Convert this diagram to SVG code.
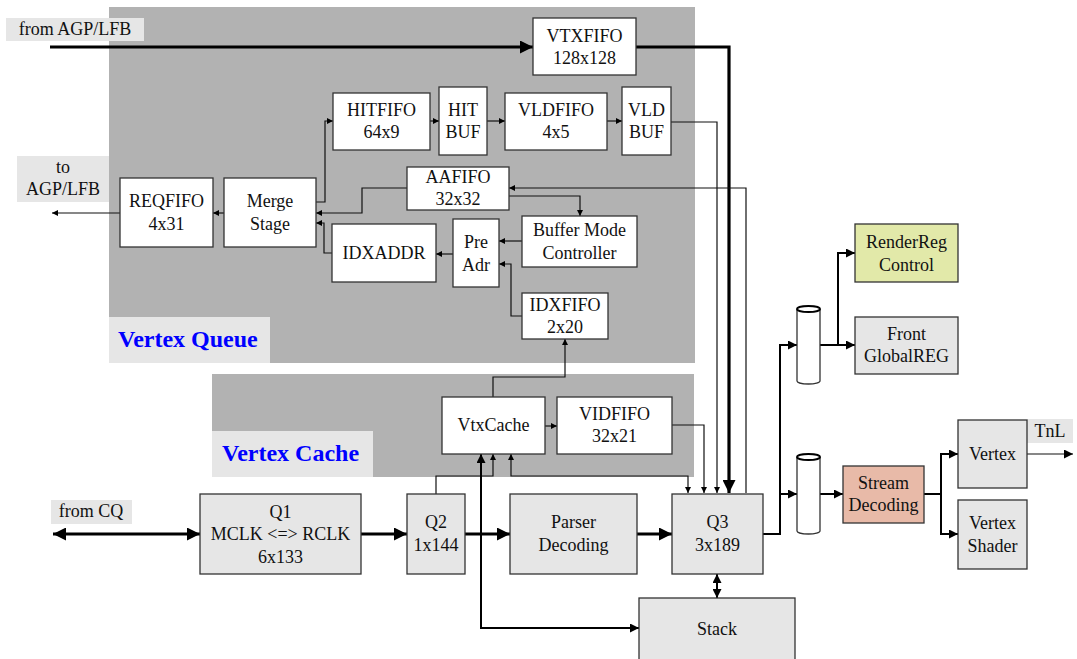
<svg xmlns="http://www.w3.org/2000/svg" width="1077" height="659" viewBox="0 0 1077 659">
<style>
text{font-family:'Liberation Serif','Times New Roman',serif;font-size:18px;fill:#111;text-anchor:middle}
text.lbl{font-size:24px;font-weight:bold;fill:#0000ff;text-anchor:start}
.box{stroke:#333;stroke-width:1.3}
.w{fill:#fff}
.g{fill:#e6e6e6}
.region{fill:#b2b2b2}
.tag{fill:#e6e6e6}
.thin{fill:none;stroke:#111;stroke-width:1.2}
.med{fill:none;stroke:#000;stroke-width:2}
.thick{fill:none;stroke:#000;stroke-width:3.2}
</style>
<defs>
<marker id="as" viewBox="0 0 10 10" refX="10" refY="5" markerWidth="7" markerHeight="6" markerUnits="userSpaceOnUse" orient="auto-start-reverse"><path d="M0,0L10,5L0,10z" fill="#000"/></marker>
<marker id="am" viewBox="0 0 10 10" refX="10" refY="5" markerWidth="10" markerHeight="9" markerUnits="userSpaceOnUse" orient="auto-start-reverse"><path d="M0,0L10,5L0,10z" fill="#000"/></marker>
<marker id="al" viewBox="0 0 10 10" refX="10" refY="5" markerWidth="16" markerHeight="13" markerUnits="userSpaceOnUse" orient="auto-start-reverse"><path d="M0,0L10,5L0,10z" fill="#000"/></marker>
</defs>

<g id="regions">
<rect class="region" x="109" y="7" width="586" height="356"/>
<rect class="tag" x="109" y="317" width="161" height="46"/>
<text class="lbl" x="118" y="347">Vertex Queue</text>
<rect class="region" x="212" y="374" width="482" height="103"/>
<rect class="tag" x="212" y="431" width="161" height="46"/>
<text class="lbl" x="222" y="461">Vertex Cache</text>
<rect class="tag" x="6" y="18" width="138" height="23"/>
<text x="75" y="35">from AGP/LFB</text>
<rect class="tag" x="17" y="156" width="92" height="46"/>
<text x="63" y="173">to</text>
<text x="63" y="195">AGP/LFB</text>
<rect class="tag" x="51" y="500" width="81" height="24"/>
<text x="91" y="517">from CQ</text>
<rect class="tag" x="1027" y="419" width="46" height="24"/>
<text x="1050" y="437">TnL</text>
</g>

<g id="connectors">
<path class="thick" d="M50,47H533" marker-end="url(#al)"/>
<path class="thick" d="M636,47H729V493" marker-end="url(#al)"/>
<path class="thin" d="M671,122H717V493" marker-end="url(#as)"/>
<path class="thin" d="M746,493V188H509" marker-end="url(#as)"/>
<path class="thin" d="M509,196H580V216" marker-end="url(#as)"/>
<path class="thin" d="M407,188H362V213H316" marker-end="url(#as)"/>
<path class="thin" d="M224,213H213" marker-end="url(#as)"/>
<path class="thin" d="M120,213H52" marker-end="url(#as)"/>
<path class="thin" d="M316,202H325V121H333" marker-end="url(#as)"/>
<path class="thin" d="M430,121H439" marker-end="url(#as)"/>
<path class="thin" d="M487,121H505" marker-end="url(#as)"/>
<path class="thin" d="M607,121H622" marker-end="url(#as)"/>
<path class="thin" d="M522,241H499" marker-end="url(#as)"/>
<path class="thin" d="M522,316H511V264H499" marker-end="url(#as)"/>
<path class="thin" d="M453,254H436" marker-end="url(#as)"/>
<path class="thin" d="M332,253H324V223H316" marker-end="url(#as)"/>
<path class="thin" d="M493,397V377H565V339" marker-end="url(#as)"/>
<path class="thin" d="M545,426H557" marker-end="url(#as)"/>
<path class="thin" d="M672,425H704V493" marker-end="url(#as)"/>
<path class="thin" d="M511,454V476H688V493" marker-start="url(#as)" marker-end="url(#as)"/>
<path class="thin" d="M436,494V476H493V454" marker-end="url(#as)"/>
<path class="med" d="M481,454V628H639" marker-start="url(#am)" marker-end="url(#am)"/>
<path class="thick" d="M53,534H200" marker-start="url(#al)" marker-end="url(#al)"/>
<path class="thick" d="M361,534H407" marker-end="url(#al)"/>
<path class="thick" d="M465,534H510" marker-end="url(#al)"/>
<path class="thick" d="M637,534H672" marker-end="url(#al)"/>
<path class="med" d="M717,574V598" marker-start="url(#am)" marker-end="url(#am)"/>
<path class="med" d="M763,534H780V345H797" marker-end="url(#am)"/>
<path class="med" d="M780,494H797" marker-end="url(#am)"/>
<path class="med" d="M820,345H855" marker-end="url(#am)"/>
<path class="med" d="M838,345V253H855" marker-end="url(#am)"/>
<path class="med" d="M820,494H843" marker-end="url(#am)"/>
<path class="med" d="M924,494H941V454H958" marker-end="url(#am)"/>
<path class="med" d="M941,494V534H958" marker-end="url(#am)"/>
<path class="thin" d="M1027,454H1073" marker-end="url(#am)"/>
</g>

<g id="vtxfifo"><rect class="box w" x="533" y="18" width="103" height="57"/><text x="584.5" y="42">VTXFIFO</text><text x="584.5" y="64">128x128</text></g>
<g id="hitfifo"><rect class="box w" x="333" y="93" width="97" height="57"/><text x="381.5" y="116">HITFIFO</text><text x="381.5" y="138">64x9</text></g>
<g id="hitbuf"><rect class="box w" x="439" y="87" width="48" height="68"/><text x="463" y="116">HIT</text><text x="463" y="138">BUF</text></g>
<g id="vldfifo"><rect class="box w" x="505" y="93" width="102" height="57"/><text x="556" y="116">VLDFIFO</text><text x="556" y="138">4x5</text></g>
<g id="vldbuf"><rect class="box w" x="622" y="87" width="49" height="68"/><text x="646.5" y="116">VLD</text><text x="646.5" y="138">BUF</text></g>
<g id="aafifo"><rect class="box w" x="407" y="167" width="102" height="43"/><text x="458" y="183">AAFIFO</text><text x="458" y="205">32x32</text></g>
<g id="reqfifo"><rect class="box w" x="120" y="178" width="93" height="69"/><text x="166.5" y="207">REQFIFO</text><text x="166.5" y="230">4x31</text></g>
<g id="merge"><rect class="box w" x="224" y="178" width="92" height="69"/><text x="270" y="207">Merge</text><text x="270" y="230">Stage</text></g>
<g id="bmc"><rect class="box w" x="522" y="216" width="115" height="51"/><text x="579.5" y="236">Buffer Mode</text><text x="579.5" y="259">Controller</text></g>
<g id="preadr"><rect class="box w" x="453" y="219" width="46" height="68"/><text x="476" y="248">Pre</text><text x="476" y="271">Adr</text></g>
<g id="idxaddr"><rect class="box w" x="332" y="224" width="104" height="58"/><text x="384" y="259">IDXADDR</text></g>
<g id="idxfifo"><rect class="box w" x="522" y="293" width="86" height="46"/><text x="565" y="311">IDXFIFO</text><text x="565" y="333">2x20</text></g>
<g id="vtxcache"><rect class="box w" x="442" y="397" width="103" height="57"/><text x="493.5" y="431">VtxCache</text></g>
<g id="vidfifo"><rect class="box w" x="557" y="397" width="115" height="57"/><text x="614.5" y="420">VIDFIFO</text><text x="614.5" y="442">32x21</text></g>
<g id="q1"><rect class="box g" x="200" y="494" width="161" height="80"/><text x="280.5" y="518">Q1</text><text x="280.5" y="540">MCLK &lt;=&gt; RCLK</text><text x="280.5" y="563">6x133</text></g>
<g id="q2"><rect class="box g" x="407" y="494" width="58" height="80"/><text x="436" y="528">Q2</text><text x="436" y="551">1x144</text></g>
<g id="parser"><rect class="box g" x="510" y="494" width="127" height="80"/><text x="573.5" y="528">Parser</text><text x="573.5" y="551">Decoding</text></g>
<g id="q3"><rect class="box g" x="672" y="494" width="91" height="80"/><text x="717.5" y="528">Q3</text><text x="717.5" y="551">3x189</text></g>
<g id="stack"><rect class="box g" x="639" y="598" width="156" height="70"/><text x="717" y="635">Stack</text></g>
<g id="cyl1"><path class="box w" d="M797,309V381A11.5,3 0 0 0 820,381V309"/><ellipse cx="808.5" cy="309" rx="11.5" ry="3" fill="#fff" stroke="#000" stroke-width="2"/></g>
<g id="cyl2"><path class="box w" d="M797,457V531A11.5,3 0 0 0 820,531V457"/><ellipse cx="808.5" cy="457" rx="11.5" ry="3" fill="#fff" stroke="#000" stroke-width="2"/></g>
<g id="renderreg"><rect class="box" fill="#e2e9a9" x="855" y="224" width="103" height="58"/><text x="906.5" y="248">RenderReg</text><text x="906.5" y="271">Control</text></g>
<g id="frontreg"><rect class="box g" x="855" y="317" width="103" height="57"/><text x="906.5" y="340">Front</text><text x="906.5" y="362">GlobalREG</text></g>
<g id="stream"><rect class="box" fill="#e8baa8" x="843" y="466" width="81" height="57"/><text x="883.5" y="489">Stream</text><text x="883.5" y="511">Decoding</text></g>
<g id="vertex"><rect class="box g" x="958" y="420" width="69" height="68"/><text x="992.5" y="460">Vertex</text></g>
<g id="vshader"><rect class="box g" x="958" y="500" width="69" height="69"/><text x="992.5" y="529">Vertex</text><text x="992.5" y="552">Shader</text></g>
</svg>
